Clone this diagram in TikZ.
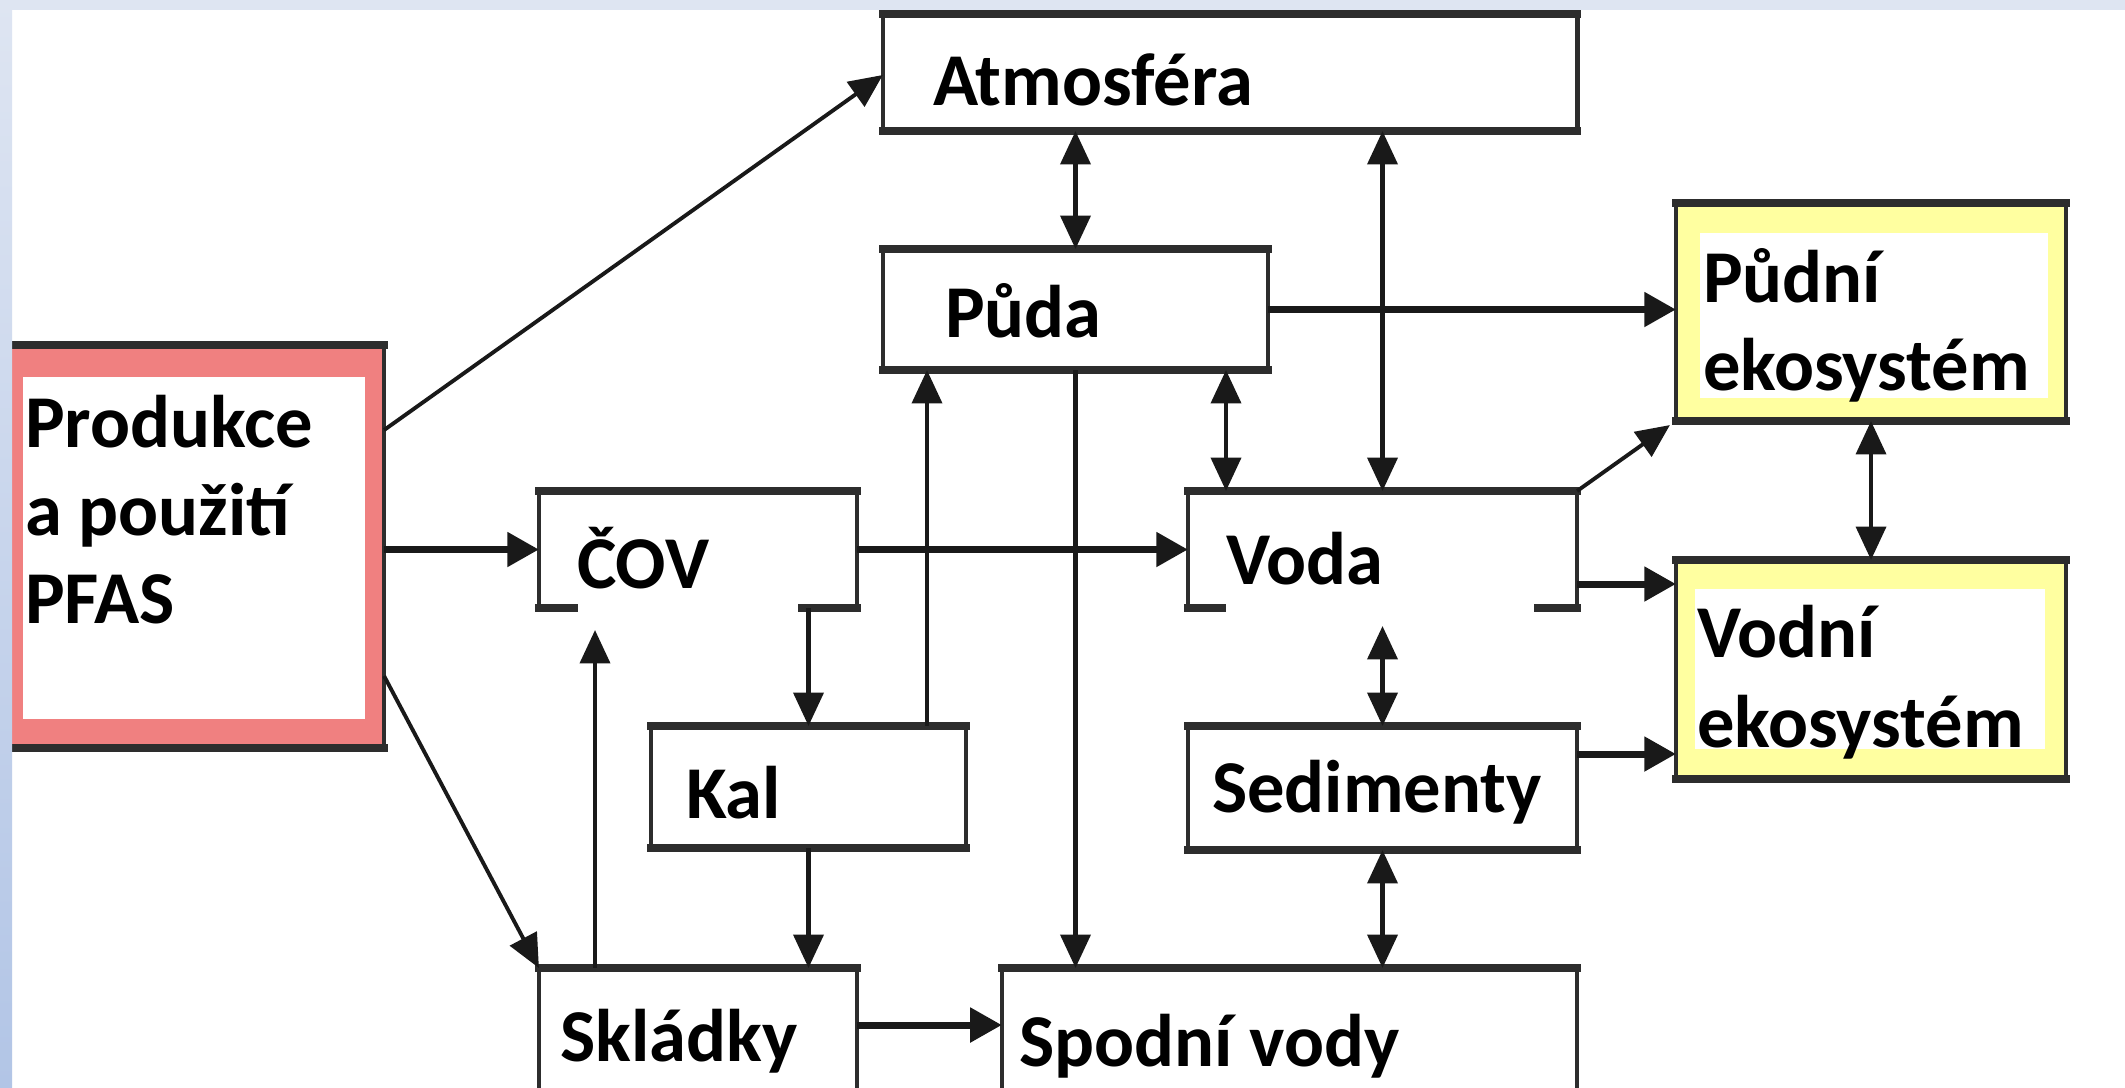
\documentclass[tikz,border=0pt]{standalone}
\usepackage{fontspec}
\setmainfont{Carlito}
\usetikzlibrary{arrows.meta,calc}
\definecolor{edgec}{RGB}{45,45,45}
\definecolor{arrc}{RGB}{25,25,25}
\definecolor{redfill}{RGB}{240,128,128}
\definecolor{yelfill}{RGB}{255,255,160}
\definecolor{topband}{RGB}{222,229,242}
\definecolor{stripbot}{RGB}{178,197,230}
\tikzset{
  box/.style={draw=none, fill=white, inner sep=0pt, outer sep=0pt},
  hedge/.style={draw=edgec, line width=2.2pt, line cap=rect},
  vedge/.style={draw=edgec, line width=1.3pt, line cap=rect},
  txt/.style={inner sep=0pt, outer sep=0pt, anchor=base west, text=black},
  harr/.style={draw=arrc, line width=2pt, -{Triangle[length=9pt,width=9.5pt]}},
  varr/.style={draw=arrc, line width=1.2pt, -{Triangle[length=9.5pt,width=8.5pt]}},
  vdarr/.style={draw=arrc, line width=1.2pt, {Triangle[length=9.5pt,width=8.5pt]}-{Triangle[length=9.5pt,width=8.5pt]}},
  darr/.style={draw=arrc, line width=1.1pt, -{Triangle[length=9.5pt,width=8.5pt]}},
}
\newcommand\hsides[1]{\draw[hedge] (#1.north west) -- (#1.north east) (#1.south west) -- (#1.south east);}
\newcommand\vsides[1]{\draw[vedge] (#1.north west) -- (#1.south west) (#1.north east) -- (#1.south east);}
\begin{document}
\begin{tikzpicture}[x=0.01cm,y=-0.01cm,font=\fontsize{21.2}{25}\selectfont\bfseries]
\useasboundingbox (0,0) rectangle (2125,1087);
\begin{scope}
\clip (0,0) rectangle (2125,1087);
\fill[white] (0,0) rectangle (2125,1087);
\fill[topband] (0,0) rectangle (2125,10);

% boxes
\node[box, minimum width=6.94cm, minimum height=1.17cm] (atm) at (1230,72.5) {};
\node[box, minimum width=3.85cm, minimum height=1.21cm] (puda) at (1075.5,309.5) {};
\node[box, fill=redfill, minimum width=3.94cm, minimum height=4.03cm] (prod) at (187,546.5) {};
\node[box, minimum width=3.42cm, minimum height=3.42cm] (prodin) at (194,548) {};
\node[box, minimum width=3.18cm, minimum height=1.17cm] (cov) at (698,549.5) {};
\node[box, minimum width=3.89cm, minimum height=1.17cm] (voda) at (1382.5,549.5) {};
\node[box, minimum width=3.15cm, minimum height=1.22cm] (kal) at (808.5,787) {};
\node[box, minimum width=3.89cm, minimum height=1.24cm] (sed) at (1382.5,788) {};
\node[box, minimum width=3.18cm, minimum height=1.60cm] (skl) at (698,1048) {};
\node[box, minimum width=5.75cm, minimum height=1.60cm] (spod) at (1289.5,1048) {};
\node[box, fill=yelfill, minimum width=3.90cm, minimum height=2.18cm] (pudni) at (1871,312) {};
\node[box, minimum width=3.48cm, minimum height=1.65cm] (pudnin) at (1874,315.5) {};
\node[box, fill=yelfill, minimum width=3.90cm, minimum height=2.19cm] (vodni) at (1871,669.5) {};
\node[box, minimum width=3.50cm, minimum height=1.60cm] (vodnin) at (1870,669) {};

% box edges
\foreach \b in {atm,puda,kal,sed,skl,spod,pudni,vodni} {\hsides{\b}\vsides{\b}}
\draw[hedge] (prod.north west) -- (prod.north east) (prod.south west) -- (prod.south east);
\draw[vedge] (prod.north east) -- (prod.south east);
% COV with gap in the bottom edge
\draw[hedge] (cov.north west) -- (cov.north east);
\draw[vedge] (cov.north west) -- (cov.south west) (cov.north east) -- (cov.south east);
\draw[hedge] (cov.south west) -- ++(35,0) (cov.south east) -- ++(-55,0);
% Voda with gaps in the bottom edge
\draw[hedge] (voda.north west) -- (voda.north east);
\draw[vedge] (voda.north west) -- (voda.south west) (voda.north east) -- (voda.south east);
\draw[hedge] (voda.south west) -- ++(34,0) (voda.south east) -- ++(-39,0);

% left strip of the slide background
\shade[top color=topband, bottom color=stripbot] (0,0) rectangle (12,1087);

% texts
\node[txt] (tatm) at (933,105) {Atmosféra};
\node[txt] (tpuda) at (945,337) {Půda};
\node[txt] (tprodA) at (25,447) {Produkce};
\node[txt] (tprodB) at (25,535) {a použití};
\node[txt] (tprodC) at (25,623) {PFAS};
\node[txt] (tcov) at (577,588) {ČOV};
\node[txt] (tvoda) at (1226,584) {Voda};
\node[txt] (tkal) at (686,818) {Kal};
\node[txt] (tsed) at (1212,812) {Sedimenty};
\node[txt] (tskl) at (560,1061) {Skládky};
\node[txt] (tspod) at (1019,1066) {Spodní vody};
\node[txt] (tpudniA) at (1703,302) {Půdní};
\node[txt] (tpudniB) at (1703,390) {ekosystém};
\node[txt] (tvodniA) at (1697,657) {Vodní};
\node[txt] (tvodniB) at (1697,747) {ekosystém};

% free ends below the open bottom edges
\coordinate (covgap) at (595,630);
\coordinate (vodagap) at (1382.5,626);

% connectors
\draw[darr] (prod.east |- 0,430) -- (atm.west |- 0,75);
\draw[harr] (prod.east |- cov.west) -- (cov.west);
\draw[darr] (prod.east |- 0,676) -- (skl.north west);
\draw[harr] (cov.east) -- (voda.west);
\draw[varr] (kal.north |- cov.south) -- (kal.north);
\draw[varr] (kal.north -| 927,0) -- (puda.south -| 927,0);
\draw[varr] (puda.south) -- (spod.north -| puda.south);
\draw[vdarr] (atm.south -| puda.north) -- (puda.north);
\draw[vdarr] (atm.south -| voda.north) -- (voda.north);
\draw[vdarr] (puda.south -| 1226,0) -- (voda.north -| 1226,0);
\draw[harr] (puda.east) -- (pudni.west |- puda.east);
\draw[darr] (voda.north east) -- ([shift={(-6,4)}]pudni.south west);
\draw[harr] (voda.east |- 0,584) -- (vodni.west |- 0,584);
\draw[vdarr] (pudni.south) -- (vodni.north);
\draw[vdarr] (vodagap) -- (sed.north);
\draw[vdarr] (sed.south) -- (spod.north -| sed.south);
\draw[harr] (sed.east |- 0,754) -- (vodni.west |- 0,754);
\draw[varr] (kal.south) -- (skl.north -| kal.south);
\draw[varr] (skl.north -| covgap) -- (covgap);
\draw[harr] (skl.east |- 0,1025) -- (spod.west |- 0,1025);
\end{scope}
\end{tikzpicture}
\end{document}
